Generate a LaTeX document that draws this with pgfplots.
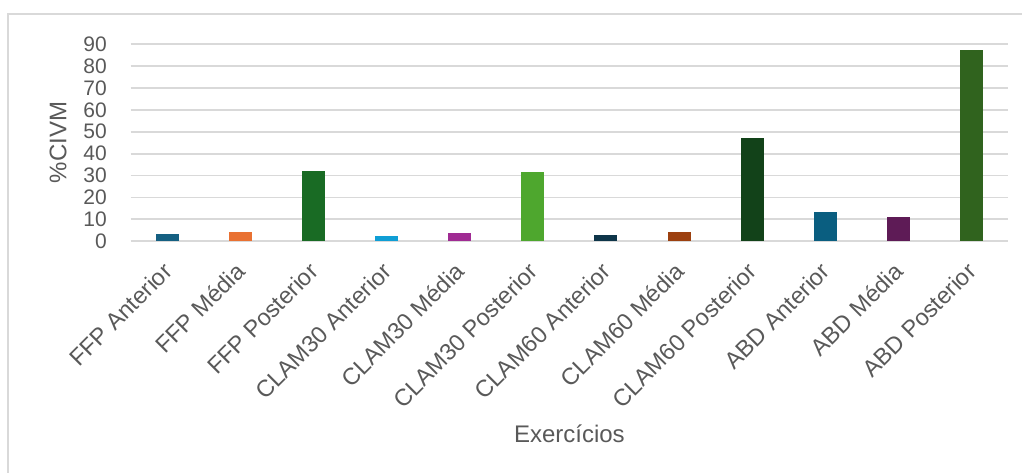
\documentclass[border=0pt]{standalone}
\usepackage{pgfplots}
\pgfplotsset{compat=1.18}
\usepackage{fontspec}
\setmainfont{Liberation Sans}
\definecolor{txt}{HTML}{595959}
\definecolor{gridg}{HTML}{D9D9D9}
\definecolor{c1}{HTML}{156082}
\definecolor{c2}{HTML}{E97132}
\definecolor{c3}{HTML}{196B24}
\definecolor{c4}{HTML}{0F9ED5}
\definecolor{c5}{HTML}{A02B93}
\definecolor{c6}{HTML}{4EA72E}
\definecolor{c7}{HTML}{0E3549}
\definecolor{c8}{HTML}{9C400F}
\definecolor{c9}{HTML}{124219}
\definecolor{c10}{HTML}{0A5E80}
\definecolor{c11}{HTML}{5E1B56}
\definecolor{c12}{HTML}{30631E}
\begin{document}
\begin{tikzpicture}
\path[use as bounding box] (0,0) rectangle (1022bp,473bp);
\draw[gridg, line width=1.5bp] (8bp,0) -- (8bp,459bp) -- (1022bp,459bp);
\begin{axis}[
  at={(130.7bp,231.7bp)}, anchor=south west,
  scale only axis, width=877.3bp, height=197.3bp,
  xmin=-0.5, xmax=11.5, ymin=0, ymax=90,
  axis line style={draw=none},
  major tick length=0pt,
  ytick={0,10,...,90},
  ymajorgrids, grid style={draw=gridg, line width=1.8bp},
  xtick={0,...,11},
  xticklabels={FFP Anterior, FFP Média, FFP Posterior, CLAM30 Anterior, CLAM30 Média, CLAM30 Posterior, CLAM60 Anterior, CLAM60 Média, CLAM60 Posterior, ABD Anterior, ABD Média, ABD Posterior},
  /pgf/number format/assume math mode=true,
  yticklabel style={font=\fontsize{21bp}{25bp}\selectfont, text=txt, anchor=east, inner sep=0pt, xshift=-23.7bp},
  xticklabel style={font=\fontsize{23.5bp}{27bp}\selectfont, text=txt, inner sep=0pt, shift={(0.5bp,-26bp)}, rotate=45, anchor=east},
  xlabel={Exercícios}, ylabel={\%CIVM},
  every axis x label/.style={at={(rel axis cs:0.5,0)}, anchor=base, yshift=-201.4bp, font=\fontsize{24bp}{28bp}\selectfont, text=txt},
  every axis y label/.style={at={(rel axis cs:0,0.5)}, xshift=-72.7bp, rotate=90, anchor=center, font=\fontsize{24bp}{28bp}\selectfont, text=txt},
  every axis plot/.append style={ybar, bar width=23bp, bar shift=0pt, draw=none},
]
\addplot[fill=c1] coordinates {(0,3.3)};
\addplot[fill=c2] coordinates {(1,4.2)};
\addplot[fill=c3] coordinates {(2,32.1)};
\addplot[fill=c4] coordinates {(3,2.4)};
\addplot[fill=c5] coordinates {(4,3.8)};
\addplot[fill=c6] coordinates {(5,31.6)};
\addplot[fill=c7] coordinates {(6,2.9)};
\addplot[fill=c8] coordinates {(7,4.2)};
\addplot[fill=c9] coordinates {(8,47.1)};
\addplot[fill=c10] coordinates {(9,13.4)};
\addplot[fill=c11] coordinates {(10,11.1)};
\addplot[fill=c12] coordinates {(11,87.3)};
\end{axis}
\end{tikzpicture}
\end{document}
